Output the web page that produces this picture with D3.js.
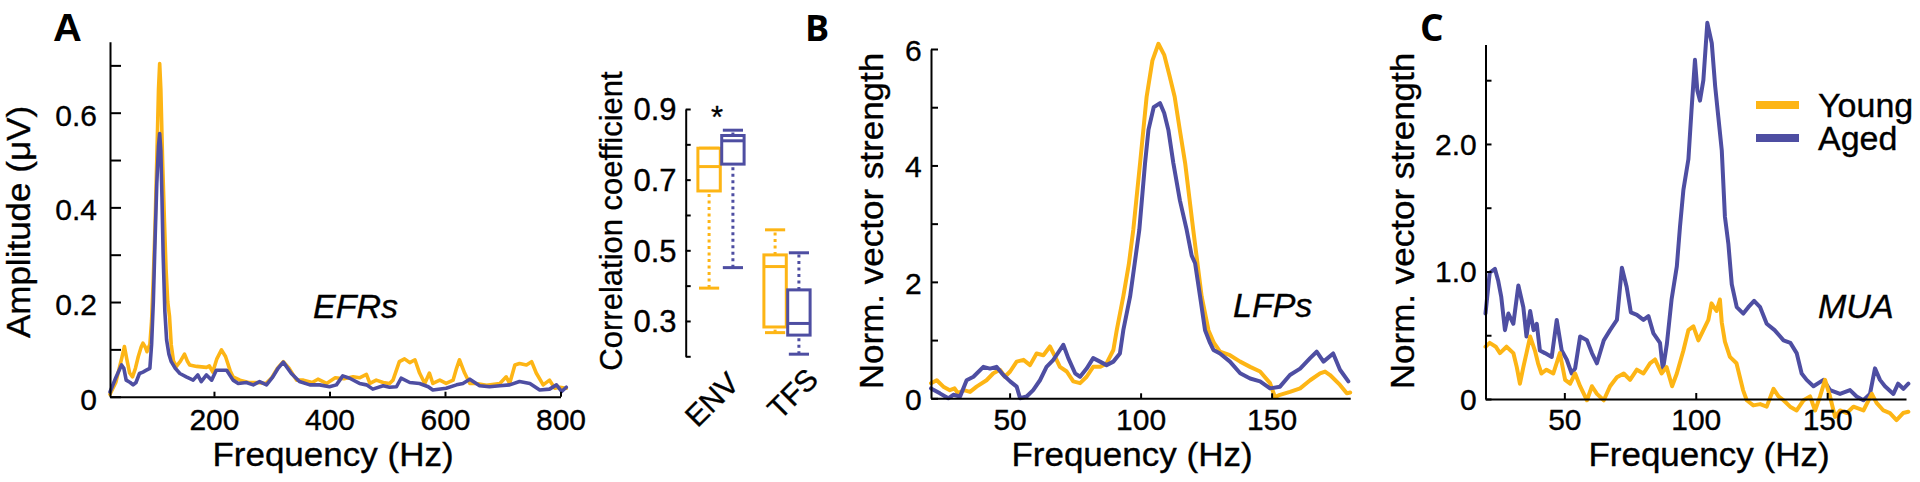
<!DOCTYPE html>
<html><head><meta charset="utf-8">
<script src="https://cdn.jsdelivr.net/npm/d3@7"></script>
<style>
html,body{margin:0;padding:0;background:#fff;}
svg text{font-family:"Liberation Sans",Arial,Helvetica,sans-serif;fill:#000;stroke:#000;stroke-width:0.35px;}
</style></head><body>
<svg id="chart" width="1920" height="482"></svg>
<script>
// ---------------- DATA ----------------
const seriesNames = ["Young", "Aged"];
const seriesColors = ["#FDB515", "#4E4EA2"];

// Panel A: EFR spectra  [frequency Hz, amplitude µV]
const efrYoung = [[20,0.005],[30,0.03],[40,0.08],[45,0.106],[49,0.08],[54,0.05],[59,0.042],[64,0.06],[69,0.085],[74,0.105],[77,0.113],[81,0.105],[84,0.095],[87,0.105],[89,0.11],[92,0.16],[95,0.25],[98,0.36],[101,0.5],[104,0.65],[106,0.704],[108,0.65],[111,0.5],[114,0.38],[117,0.27],[120,0.2],[123,0.17],[126,0.11],[130,0.075],[135,0.064],[142,0.075],[149,0.09],[154,0.075],[158,0.067],[170,0.064],[187,0.062],[192,0.065],[198,0.052],[205,0.08],[213,0.099],[220,0.085],[228,0.055],[233,0.042],[245,0.035],[260,0.03],[275,0.03],[290,0.028],[300,0.04],[310,0.06],[320,0.074],[330,0.06],[343,0.035],[355,0.035],[370,0.03],[380,0.037],[395,0.028],[410,0.04],[425,0.038],[441,0.042],[452,0.04],[464,0.047],[470,0.028],[481,0.035],[493,0.03],[504,0.028],[510,0.035],[521,0.074],[530,0.08],[539,0.072],[548,0.078],[556,0.05],[565,0.028],[573,0.05],[579,0.028],[591,0.035],[602,0.028],[614,0.035],[620,0.06],[625,0.078],[634,0.05],[643,0.028],[654,0.028],[672,0.024],[695,0.028],[706,0.042],[712,0.028],[721,0.067],[729,0.07],[741,0.067],[750,0.074],[758,0.05],[770,0.025],[781,0.035],[790,0.018],[799,0.02],[810,0.018]];
const efrAged = [[20,0.01],[30,0.04],[40,0.067],[44,0.06],[48,0.035],[55,0.03],[60,0.025],[65,0.03],[71,0.049],[77,0.052],[83,0.056],[89,0.06],[92,0.11],[95,0.2],[98,0.33],[101,0.45],[104,0.53],[106,0.556],[108,0.52],[110,0.42],[112,0.3],[115,0.18],[118,0.12],[122,0.09],[126,0.074],[133,0.06],[141,0.049],[152,0.042],[164,0.035],[172,0.046],[178,0.032],[187,0.046],[196,0.035],[204,0.056],[222,0.056],[233,0.035],[242,0.028],[256,0.03],[268,0.025],[279,0.032],[291,0.025],[302,0.042],[311,0.06],[320,0.073],[334,0.049],[348,0.032],[366,0.025],[383,0.025],[400,0.021],[412,0.025],[423,0.044],[435,0.039],[452,0.028],[464,0.025],[475,0.016],[493,0.023],[504,0.02],[516,0.021],[524,0.039],[539,0.03],[556,0.028],[571,0.021],[579,0.014],[602,0.018],[620,0.025],[631,0.028],[643,0.037],[660,0.023],[677,0.021],[695,0.023],[712,0.025],[729,0.032],[747,0.028],[764,0.014],[781,0.016],[793,0.025],[802,0.011],[810,0.02]];
const efrXTicks = [200, 400, 600, 800];
const efrYTicks = [0, 0.1, 0.2, 0.3, 0.4, 0.5, 0.6, 0.7];
const efrYLabels = {"0":"0", "0.2":"0.2", "0.4":"0.4", "0.6":"0.6"};

// Panel A inset: correlation coefficients  [min, q1, median, q3, max]
const boxGroups = ["ENV", "TFS"];
const boxYoung = [[0.393, 0.668, 0.737, 0.789, 0.789], [0.267, 0.283, 0.454, 0.487, 0.558]];
const boxAged  = [[0.451, 0.744, 0.810, 0.825, 0.840], [0.206, 0.260, 0.293, 0.388, 0.493]];
const boxYTicks = [0.2, 0.3, 0.4, 0.5, 0.6, 0.7, 0.8, 0.9];
const boxYLabels = {"0.3":"0.3", "0.5":"0.5", "0.7":"0.7", "0.9":"0.9"};
const boxSignif = ["*", ""];

// Panel B: LFP normalised vector strength  [frequency Hz, value]
const lfpYoung = [[20,0.26],[22.2,0.31],[24.7,0.2],[27.2,0.14],[29,0.17],[30.3,0.085],[32.5,0.14],[34.9,0.11],[37.4,0.2],[41.2,0.31],[43.8,0.43],[46.3,0.49],[48.2,0.37],[50.2,0.46],[52.7,0.63],[55.3,0.66],[57.8,0.57],[60.3,0.77],[62.9,0.74],[65.4,0.89],[67.3,0.72],[69.2,0.54],[71.8,0.46],[74.3,0.29],[76.9,0.26],[79.4,0.37],[81.9,0.54],[84.5,0.54],[87,0.6],[89.6,0.83],[90.9,1.17],[93.4,1.75],[95.5,2.3],[97.2,2.89],[99.8,4.04],[102.3,5.18],[104.5,5.8],[106.8,6.09],[109,5.9],[111,5.55],[113,5.18],[115,4.6],[117,4.04],[120.1,2.89],[123.3,1.75],[125.9,1.17],[128,0.95],[130.3,0.8],[134.1,0.74],[138,0.63],[141.8,0.54],[145.6,0.46],[149.4,0.26],[151.3,0.02],[153.2,0.06],[157,0.11],[160.9,0.17],[164.7,0.31],[168.5,0.43],[170.4,0.46],[172.3,0.4],[176.1,0.23],[178.7,0.085],[180,0.1]];
const lfpAged = [[20,0.17],[23.4,0.085],[26.6,0.0],[28.5,0.06],[31.1,0.03],[33.6,0.31],[36.2,0.37],[40,0.54],[42.5,0.51],[45,0.54],[47.6,0.4],[50.2,0.29],[52.7,0.2],[54,0.0],[56.5,0.03],[59,0.14],[61.6,0.31],[64.1,0.54],[66.7,0.66],[69.2,0.83],[70.5,0.92],[72.4,0.69],[75,0.43],[76.9,0.37],[79.4,0.51],[81.9,0.69],[84.5,0.63],[87,0.57],[89.6,0.63],[92.1,0.77],[93.4,1.17],[96,1.75],[99.5,2.89],[101.7,4.04],[103,4.61],[105,5.0],[107.4,5.07],[109,4.9],[110.6,4.61],[112.5,4.04],[115,3.4],[117.6,2.89],[119.5,2.45],[120.8,2.32],[122.7,1.75],[124.6,1.17],[126.5,0.95],[127.8,0.83],[130.3,0.77],[134.1,0.63],[138,0.43],[141.8,0.34],[145.6,0.29],[149.4,0.17],[153.2,0.2],[157,0.4],[160.9,0.51],[164.7,0.69],[167.2,0.8],[169.8,0.63],[173.5,0.77],[176.1,0.49],[179.3,0.29]];
const lfpXTicks = [50, 100, 150];
const lfpYTicks = [0, 1, 2, 3, 4, 5, 6];
const lfpYLabels = {"0":"0", "2":"2", "4":"4", "6":"6"};

// Panel C: MUA normalised vector strength  [frequency Hz, value]
const muaYoung = [[20,0.41],[21.6,0.44],[23.9,0.41],[25.5,0.36],[28,0.41],[30.6,0.36],[31.9,0.25],[33.1,0.12],[34.4,0.25],[35.6,0.36],[37,0.49],[38.8,0.38],[40,0.28],[41.3,0.2],[43.2,0.23],[45.8,0.2],[48.3,0.36],[50.3,0.15],[52.2,0.12],[54.1,0.2],[56,0.1],[58.6,-0.01],[60.5,0.1],[62.4,0.04],[65,-0.01],[67.4,0.1],[70,0.17],[72.6,0.2],[75,0.15],[77.6,0.23],[80.1,0.2],[82.6,0.28],[84.5,0.31],[87,0.2],[88.9,0.25],[91,0.1],[92.8,0.2],[95.3,0.38],[97.2,0.54],[99.1,0.57],[101,0.46],[102.9,0.54],[104.8,0.62],[106,0.75],[107.9,0.69],[109.2,0.78],[109.9,0.6],[111.1,0.45],[113,0.33],[115.5,0.28],[118,0.07],[119.4,-0.01],[121.9,-0.05],[124.5,-0.04],[127,-0.06],[129.6,0.08],[131.5,0.02],[133.4,-0.01],[135.9,-0.06],[138.4,-0.09],[141,-0.01],[143.5,0.02],[145.4,-0.09],[147.3,0.02],[149.2,0.15],[151.1,0.02],[153,-0.14],[154.9,-0.09],[157.5,-0.11],[160,-0.06],[163.8,-0.09],[167,0.04],[168.8,-0.03],[171.4,-0.09],[173.9,-0.11],[176.4,-0.165],[178.9,-0.11],[180.9,-0.1]];
const muaAged = [[20,0.67],[21.6,0.99],[23.6,1.02],[24.8,0.93],[26,0.8],[27.4,0.54],[28.7,0.67],[30.6,0.59],[32.5,0.89],[34.4,0.72],[35.6,0.49],[37,0.69],[38.3,0.54],[39.5,0.59],[40.7,0.38],[42.6,0.36],[45.2,0.33],[47.1,0.62],[49,0.38],[50.9,0.31],[52.8,0.2],[54.1,0.24],[56,0.49],[58.6,0.46],[60.5,0.36],[62.4,0.28],[65,0.46],[67.4,0.54],[70,0.62],[71.9,1.03],[73.7,0.88],[75.3,0.68],[77.6,0.66],[80.1,0.62],[82,0.65],[83.9,0.515],[86.4,0.44],[87.5,0.23],[89,0.43],[90.8,0.78],[92.8,1.04],[94,1.35],[95.3,1.64],[97.2,1.88],[98.4,2.27],[99.7,2.66],[100.6,2.42],[101.6,2.34],[102.9,2.5],[104.4,2.95],[106.1,2.79],[107.4,2.45],[108.6,2.21],[109.9,1.95],[111.1,1.43],[112.4,1.22],[113.7,0.9],[115.6,0.72],[118.1,0.67],[120,0.72],[122.2,0.77],[124.5,0.72],[127,0.59],[130,0.54],[133.4,0.46],[136,0.44],[138.4,0.36],[140.3,0.2],[142.2,0.15],[144.8,0.1],[148.6,0.15],[151.1,0.07],[154.9,0.04],[158.7,0.07],[161.2,0.02],[163.8,-0.01],[166.3,0.04],[168.2,0.24],[170.1,0.15],[172,0.1],[175.2,0.04],[177,0.12],[179,0.08],[180.9,0.12]];
const muaXTicks = [50, 100, 150];
const muaYTicks = [0, 0.5, 1, 1.5, 2, 2.5];
const muaYLabels = {"0":"0", "1":"1.0", "2":"2.0"};

// ---------------- DRAWING ----------------
const svg = d3.select("#chart");
const TICK_FS = 30;

function addText(parent, x, y, str, o) {
  o = o || {};
  const t = parent.append("text")
    .attr("transform", `translate(${x},${y}) rotate(${o.rotate || 0}) scale(${o.sx || 1},1)`)
    .attr("text-anchor", o.anchor || "start")
    .style("font-size", (o.size || 34) + "px")
    .text(str);
  if (o.weight) t.style("font-weight", o.weight).style("stroke-width", "0px");
  if (o.italic) t.style("font-style", "italic");
  if (o.family) t.style("font-family", o.family);
  return t;
}

function styleAxis(g) {
  g.select(".domain").attr("stroke", "#000").attr("stroke-width", 2);
  g.selectAll(".tick line").attr("stroke", "#000").attr("stroke-width", 2);
  g.selectAll(".tick text").style("font-size", TICK_FS + "px")
    .attr("fill", "#000")
    .style("font-family", '"Liberation Sans", Arial, sans-serif');
}

function leftAxis(y, x0, ticks, labels, tickLen, pad, dy, fs) {
  const ax = d3.axisLeft(y).tickValues(ticks).tickSizeOuter(0).tickSizeInner(-tickLen)
    .tickPadding(pad).tickFormat(d => labels[String(d)] || "");
  const g = svg.append("g").attr("transform", `translate(${x0},0)`).call(ax);
  styleAxis(g);
  g.selectAll(".tick text").attr("dy", dy || "0.35em");
  if (fs) g.selectAll(".tick text").style("font-size", fs + "px");
  return g;
}

function bottomAxis(x, y0, ticks, tickLen, pad) {
  const ax = d3.axisBottom(x).tickValues(ticks).tickSizeOuter(0).tickSizeInner(-tickLen)
    .tickPadding(pad).tickFormat(d3.format("d"));
  const g = svg.append("g").attr("transform", `translate(0,${y0})`).call(ax);
  styleAxis(g);
  return g;
}

function drawLine(data, x, y, color, w) {
  const line = d3.line().x(d => x(d[0])).y(d => y(d[1])).curve(d3.curveLinear);
  svg.append("path").datum(data).attr("d", line)
    .attr("fill", "none").attr("stroke", color).attr("stroke-width", w)
    .attr("stroke-linejoin", "round").attr("stroke-linecap", "round");
}

// ---- Panel A: EFRs ----
const xA = d3.scaleLinear().domain([20, 800]).range([110, 560.5]);
const yA = d3.scaleLinear().domain([0, 0.75]).range([396.7, 41.7]);
drawLine(efrYoung, xA, yA, seriesColors[0], 3.6);
drawLine(efrAged, xA, yA, seriesColors[1], 3.6);
leftAxis(yA, 110, efrYTicks, efrYLabels, 11, 13, "0.42em");
bottomAxis(xA, 396.7, efrXTicks, 5, 12);
addText(svg, 30, 222, "Amplitude (\u03bcV)", {rotate: -90, anchor: "middle", size: 34, sx: 1.03});
addText(svg, 333, 466, "Frequency (Hz)", {anchor: "middle", size: 34, sx: 1.03});
addText(svg, 313, 318, "EFRs", {italic: true, size: 34});
addText(svg, 53, 41, "A", {weight: "bold", size: 38, sx: 1.05});

// ---- Panel A inset: box plots ----
const yBox = d3.scaleLinear().domain([0.2, 0.9]).range([356.3, 109]);
const xBox = d3.scaleBand().domain(boxGroups).range([688, 820]).paddingInner(0.3).paddingOuter(0.15);
const xSub = d3.scaleBand().domain(seriesNames).range([0, xBox.bandwidth()]).paddingInner(0.06);
leftAxis(yBox, 685.7, boxYTicks, boxYLabels, 5, 9.2, "0.35em", 31);
addText(svg, 622, 221, "Correlation coefficient", {rotate: -90, anchor: "middle", size: 31});
[boxYoung, boxAged].forEach((stats, si) => {
  const color = seriesColors[si];
  boxGroups.forEach((grp, gi) => {
    const s = stats[gi];
    const x0 = xBox(grp) + xSub(seriesNames[si]);
    const bw = xSub.bandwidth();
    const cx = x0 + bw / 2;
    const capW = bw * 0.9;
    const g = svg.append("g").attr("stroke", color).attr("fill", "none").attr("stroke-width", 3);
    g.append("line").attr("x1", cx).attr("x2", cx).attr("y1", yBox(s[0])).attr("y2", yBox(s[1])).attr("stroke-dasharray", "3,3.5");
    g.append("line").attr("x1", cx).attr("x2", cx).attr("y1", yBox(s[3])).attr("y2", yBox(s[4])).attr("stroke-dasharray", "3,3.5");
    g.append("line").attr("x1", cx - capW / 2).attr("x2", cx + capW / 2).attr("y1", yBox(s[0])).attr("y2", yBox(s[0]));
    g.append("line").attr("x1", cx - capW / 2).attr("x2", cx + capW / 2).attr("y1", yBox(s[4])).attr("y2", yBox(s[4]));
    g.append("rect").attr("x", x0).attr("width", bw).attr("y", yBox(s[3])).attr("height", yBox(s[1]) - yBox(s[3])).attr("fill", "#fff");
    g.append("line").attr("x1", x0).attr("x2", x0 + bw).attr("y1", yBox(s[2])).attr("y2", yBox(s[2]));
  });
});
boxGroups.forEach((grp, gi) => {
  if (boxSignif[gi]) addText(svg, xBox(grp) + xBox.bandwidth() / 2 - 4, 128, boxSignif[gi], {anchor: "middle", size: 31});
});
addText(svg, 741, 385, "ENV", {rotate: -45, anchor: "end", size: 30});
addText(svg, 820, 381, "TFS", {rotate: -45, anchor: "end", size: 30});

// ---- Panel B: LFPs ----
const xB = d3.scaleLinear().domain([20, 180]).range([931, 1350.2]);
const yB = d3.scaleLinear().domain([0, 6]).range([398.3, 49]);
drawLine(lfpYoung, xB, yB, seriesColors[0], 4);
drawLine(lfpAged, xB, yB, seriesColors[1], 4);
leftAxis(yB, 931, lfpYTicks, lfpYLabels, 7, 9.3, "0.38em");
bottomAxis(xB, 398.3, lfpXTicks, 5, 10.4);
addText(svg, 883, 221, "Norm. vector strength", {rotate: -90, anchor: "middle", size: 34, sx: 1.03});
addText(svg, 1132, 466, "Frequency (Hz)", {anchor: "middle", size: 34, sx: 1.03});
addText(svg, 1233, 317, "LFPs", {italic: true, size: 34});
addText(svg, 805, 41, "B", {weight: "bold", size: 36, family: '"Open Sans", sans-serif'});

// ---- Panel C: MUA ----
const xC = d3.scaleLinear().domain([20, 180]).range([1485.5, 1906]);
const yC = d3.scaleLinear().domain([0, 2.78]).range([399, 44.5]);
drawLine(muaAged, xC, yC, seriesColors[1], 4);
drawLine(muaYoung, xC, yC, seriesColors[0], 4);
leftAxis(yC, 1485.5, muaYTicks, muaYLabels, 6, 8.8, "0.35em");
bottomAxis(xC, 399, muaXTicks, 6, 9.7);
addText(svg, 1414, 221, "Norm. vector strength", {rotate: -90, anchor: "middle", size: 34, sx: 1.03});
addText(svg, 1709, 466, "Frequency (Hz)", {anchor: "middle", size: 34, sx: 1.03});
addText(svg, 1818, 318, "MUA", {italic: true, size: 34});
addText(svg, 1420, 41, "C", {weight: "bold", size: 37, family: '"Open Sans", sans-serif'});

// ---- Legend ----
const legY = d3.scalePoint().domain(seriesNames).range([105, 138]);
seriesNames.forEach((name, i) => {
  svg.append("line").attr("x1", 1756).attr("x2", 1799).attr("y1", legY(name)).attr("y2", legY(name))
    .attr("stroke", seriesColors[i]).attr("stroke-width", 8);
  addText(svg, 1818, legY(name) + 12, name, {size: 34});
});
</script>
</body></html>
